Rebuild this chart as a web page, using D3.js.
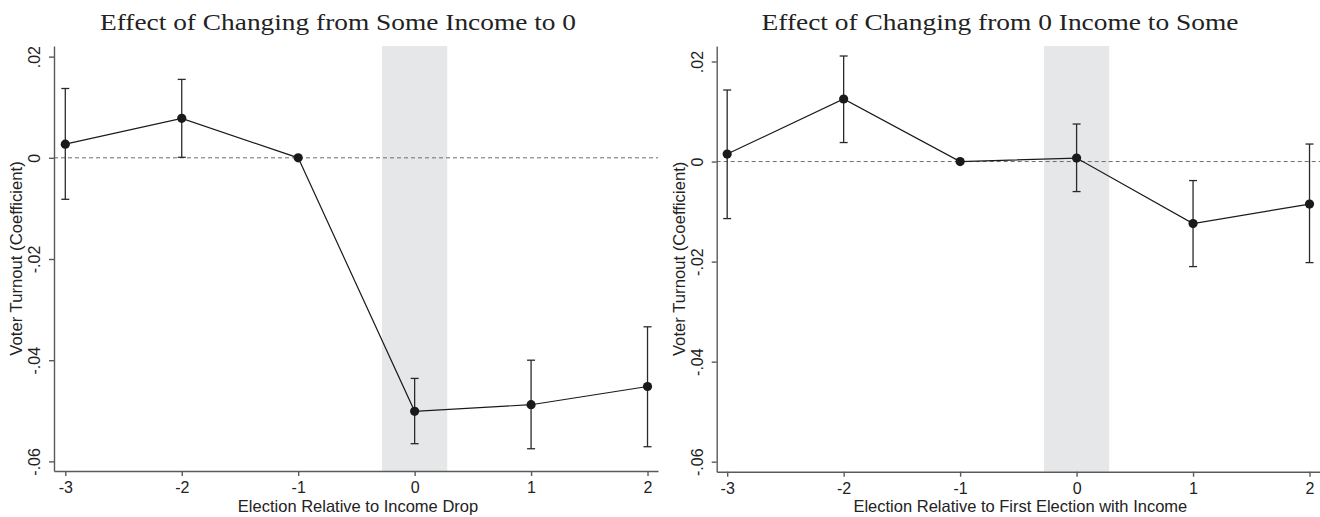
<!DOCTYPE html>
<html>
<head>
<meta charset="utf-8">
<script src="https://cdn.jsdelivr.net/npm/d3@7"></script>
<style>
  html, body { margin: 0; padding: 0; background: #fff; }
  svg { display: block; }
</style>
</head>
<body>
<svg id="chart" width="1320" height="517"></svg>
<script>
// ---- data ----
const elections = [-3, -2, -1, 0, 1, 2];
const xTickLabels = ["-3", "-2", "-1", "0", "1", "2"];
const yTickValues = [0.02, 0, -0.02, -0.04, -0.06];
const yTickLabels = [".02", "0", "-.02", "-.04", "-.06"];
const bandRange = [-0.28, 0.28];

const leftTitle = "Effect of Changing from Some Income to 0";
const leftXLabel = "Election Relative to Income Drop";
const leftCoef = [0.0027, 0.0078, 0.0, -0.0501, -0.0488, -0.0452];
const leftLo   = [-0.0082, 0.0001, null, -0.0565, -0.0575, -0.0571];
const leftHi   = [0.0137, 0.0155, null, -0.0436, -0.0400, -0.0334];

const rightTitle = "Effect of Changing from 0 Income to Some";
const rightXLabel = "Election Relative to First Election with Income";
const rightCoef = [0.0015, 0.0125, 0.0, 0.0007, -0.0124, -0.0085];
const rightLo   = [-0.0114, 0.0038, null, -0.0060, -0.0210, -0.0202];
const rightHi   = [0.0143, 0.0211, null, 0.0075, -0.0038, 0.0035];

const yLabel = "Voter Turnout (Coefficient)";

// ---- drawing ----
const svg = d3.select("#chart");
const SANS = "'Liberation Sans', Arial, Helvetica, sans-serif";

function panel(cfg) {
  const x = d3.scaleLinear().domain(cfg.xDomain).range(cfg.xRange);
  const y = d3.scaleLinear().domain(cfg.yDomain).range(cfg.yRange);
  const g = svg.append("g");

  // shaded band
  g.append("rect")
    .attr("x", x(bandRange[0]))
    .attr("width", x(bandRange[1]) - x(bandRange[0]))
    .attr("y", y.range()[1])
    .attr("height", y.range()[0] - y.range()[1])
    .attr("fill", "#e6e7e9");

  // zero line
  g.append("line")
    .attr("x1", x.range()[0]).attr("x2", x.range()[1])
    .attr("y1", y(0)).attr("y2", y(0))
    .attr("stroke", "#6e6e6e").attr("stroke-width", 1)
    .attr("stroke-dasharray", "4,3");

  // axes
  const yAxis = d3.axisLeft(y).tickValues(yTickValues)
    .tickFormat((d, i) => yTickLabels[i]).tickSize(5).tickSizeOuter(0);
  const ya = g.append("g").attr("transform", `translate(${x.range()[0]},0)`).call(yAxis);
  ya.selectAll("text")
    .attr("transform", "rotate(-90)")
    .attr("x", 0).attr("y", -14).attr("dy", 0)
    .attr("text-anchor", "middle");

  const xAxis = d3.axisBottom(x).tickValues(elections)
    .tickFormat((d, i) => xTickLabels[i]).tickSize(5).tickSizeOuter(0);
  const xa = g.append("g").attr("transform", `translate(0,${y.range()[0]})`).call(xAxis);
  xa.selectAll("text").attr("y", 22).attr("dy", 0);

  [ya, xa].forEach(a => {
    a.attr("font-family", SANS)
     .attr("font-size", 16).attr("color", "#5a5a5a");
    a.selectAll("path, line").attr("stroke-width", 1.4);
    a.selectAll("text").attr("fill", "#222");
  });

  // error bars
  const eb = g.append("g").attr("stroke", "#2a2a2a").attr("stroke-width", 1.3);
  elections.forEach((e, i) => {
    if (cfg.lo[i] == null) return;
    const cx = x(e);
    eb.append("line").attr("x1", cx).attr("x2", cx).attr("y1", y(cfg.lo[i])).attr("y2", y(cfg.hi[i]));
    eb.append("line").attr("x1", cx - 4).attr("x2", cx + 4).attr("y1", y(cfg.lo[i])).attr("y2", y(cfg.lo[i]));
    eb.append("line").attr("x1", cx - 4).attr("x2", cx + 4).attr("y1", y(cfg.hi[i])).attr("y2", y(cfg.hi[i]));
  });

  // line
  const line = d3.line().x((d, i) => x(elections[i])).y(d => y(d));
  g.append("path").datum(cfg.coef)
    .attr("d", line).attr("fill", "none")
    .attr("stroke", "#1a1a1a").attr("stroke-width", 1.2);

  // points
  g.selectAll("circle.pt").data(cfg.coef).enter().append("circle")
    .attr("cx", (d, i) => x(elections[i])).attr("cy", d => y(d))
    .attr("r", 4.6).attr("fill", "#1a1a1a");

  // title
  g.append("text")
    .attr("x", cfg.titleX).attr("y", 30)
    .attr("text-anchor", "middle")
    .attr("font-family", "'Liberation Serif', 'DejaVu Serif', serif")
    .attr("font-size", 23).attr("fill", "#222")
    .attr("textLength", cfg.titleW).attr("lengthAdjust", "spacingAndGlyphs")
    .text(cfg.title);

  // x label
  g.append("text")
    .attr("x", (x.range()[0] + x.range()[1]) / 2 + 2).attr("y", 512)
    .attr("text-anchor", "middle")
    .attr("font-family", SANS)
    .attr("font-size", 16.5).attr("fill", "#222")
    .text(cfg.xLabel);

  // y label
  const yl = (y.range()[0] + y.range()[1]) / 2;
  g.append("text")
    .attr("transform", `translate(${x.range()[0] - 32},${yl}) rotate(-90)`)
    .attr("text-anchor", "middle")
    .attr("font-family", SANS)
    .attr("font-size", 16.7).attr("fill", "#222")
    .text(yLabel);
}

panel({
  xDomain: [-3.097, 2.09], xRange: [54, 658],
  yDomain: [-0.0619, 0.0221], yRange: [471, 46],
  coef: leftCoef, lo: leftLo, hi: leftHi,
  title: leftTitle, titleX: 338, titleW: 476, xLabel: leftXLabel
});
panel({
  xDomain: [-3.09, 2.09], xRange: [716.7, 1320],
  yDomain: [-0.062, 0.0231], yRange: [471.7, 46],
  coef: rightCoef, lo: rightLo, hi: rightHi,
  title: rightTitle, titleX: 1000, titleW: 477, xLabel: rightXLabel
});
</script>
</body>
</html>
